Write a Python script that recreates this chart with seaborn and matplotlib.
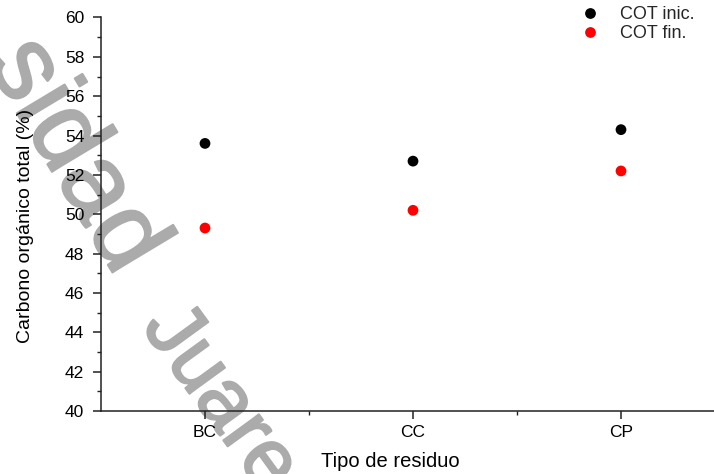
import matplotlib
matplotlib.use("Agg")
import matplotlib.pyplot as plt
import matplotlib.patheffects as pe
from matplotlib.ticker import MultipleLocator, FixedLocator
import seaborn as sns
import pandas as pd

categories = ["BC", "CC", "CP"]
cot_inic = [53.6, 52.7, 54.3]
cot_fin = [49.3, 50.2, 52.2]
series_names = ["COT inic.", "COT fin."]
series_colors = ["#000000", "#ff0000"]

sns.set_theme(style="ticks")
plt.rcParams["font.family"] = ["Liberation Sans", "DejaVu Sans"]

df = pd.DataFrame({
    "Tipo": categories * 2,
    "COT": cot_inic + cot_fin,
    "Serie": [series_names[0]] * 3 + [series_names[1]] * 3,
})

W, H = 714, 474
fig = plt.figure(figsize=(W / 100, H / 100), dpi=100)

def fx(px):
    return px / W

def fy(py):
    return 1 - py / H

# watermark (behind the chart)
wm_col = "#ababab"
wm = dict(rotation_mode="anchor", ha="left", va="baseline",
          color=wm_col, zorder=-5,
          path_effects=[pe.Stroke(linewidth=4.5, foreground="white"),
                        pe.Stroke(linewidth=1.5, foreground=wm_col),
                        pe.Normal()])
fig.text(fx(-14), fy(62), "sidad", rotation=-59, fontsize=76, **wm)
fig.text(fx(141), fy(327), "Juare", rotation=-54, fontsize=60, **wm)

ax = fig.add_axes([fx(101), fy(411), (725 - 101) / W, (411 - 17.5) / H])
ax.patch.set_alpha(0)

sns.scatterplot(data=df, x="Tipo", y="COT", hue="Serie", palette=series_colors,
                s=60, edgecolor="none", ax=ax, legend=True, zorder=5)

ax.set_xlim(-0.5, 2.5)
ax.set_ylim(40, 60)
ax.yaxis.set_major_locator(MultipleLocator(2))
ax.yaxis.set_minor_locator(MultipleLocator(1))
ax.xaxis.set_minor_locator(FixedLocator([0.5, 1.5, 2.5]))

for s in ["top", "right"]:
    ax.spines[s].set_visible(False)
for s in ["left", "bottom"]:
    ax.spines[s].set_linewidth(1.1)
    ax.spines[s].set_color("#222222")

ax.tick_params(axis="y", which="major", length=6, width=1.1, pad=6,
               labelsize=12.5, colors="#222222", labelcolor="black")
ax.tick_params(axis="y", which="minor", length=3, width=1.0, colors="#222222")
ax.tick_params(axis="x", which="major", length=6, width=1.1, pad=4,
               labelsize=12.5, colors="#222222", labelcolor="black")
ax.tick_params(axis="x", which="minor", length=3, width=1.0, colors="#222222")

ax.set_xlabel("Tipo de residuo", fontsize=14.5, color="black")
ax.set_ylabel("Carbono orgánico total (%)", fontsize=14, color="black")
ax.xaxis.set_label_coords((390 - 101) / 624, (411 - 452) / 393.5)
ax.yaxis.set_label_coords((34 - 101) / 624, (411 - 226) / 393.5)

leg = ax.legend(loc="upper left", bbox_to_anchor=(fx(577), fy(6)),
                bbox_transform=fig.transFigure, frameon=False, fontsize=13,
                handlelength=1.4, handletextpad=1.0, labelspacing=0.12,
                borderpad=0, borderaxespad=0, markerscale=1.0)
leg.set_title(None)

fig.savefig("out.png", dpi=100)
